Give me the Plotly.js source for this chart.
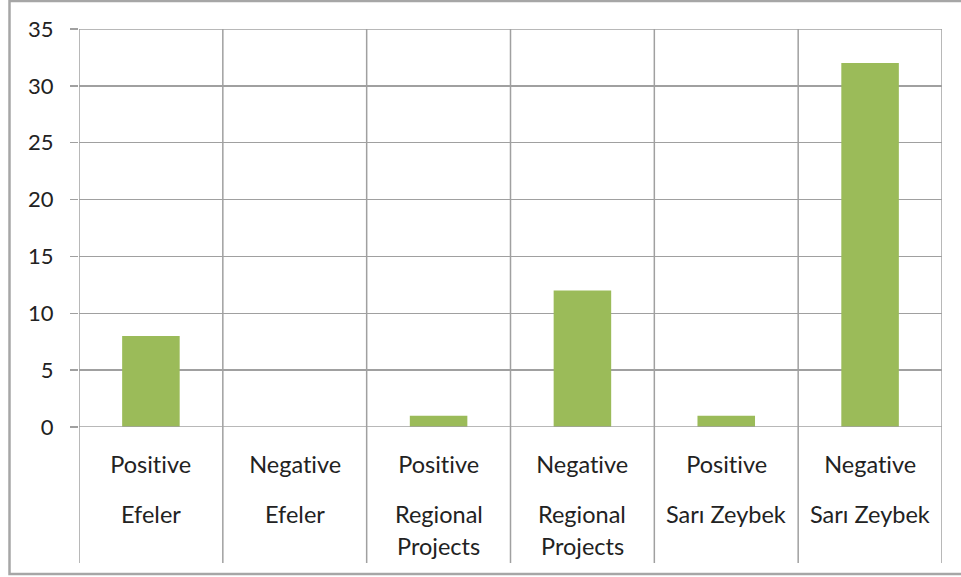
<!DOCTYPE html>
<html>
<head>
<meta charset="utf-8">
<script src="https://cdn.plot.ly/plotly-3.0.1.min.js"></script>
<style>
  html, body { margin: 0; padding: 0; background: #ffffff; }
  #chart { width: 961px; height: 577px; }
  #chart text { font-variant-ligatures: none !important; font-feature-settings: "liga" 0, "clig" 0 !important; }
</style>
</head>
<body>
<div id="chart"></div>
<script>
// ---- data ----
const sentiments = ["Positive", "Negative", "Positive", "Negative", "Positive", "Negative"];
const groups = ["Efeler", "Efeler", "Regional<br>Projects", "Regional<br>Projects", "Sarı Zeybek", "Sarı Zeybek"];
const counts = [8, 0, 1, 12, 1, 32];
const yTicks = [0, 5, 10, 15, 20, 25, 30, 35];

// ---- geometry helpers ----
const W = 961, H = 577;
const M = { l: 79, r: 19, t: 29, b: 150 };
const plotH = H - M.t - M.b;
const plotW = W - M.l - M.r;
const pyPaper = (py) => (H - M.b - py) / plotH;   // pixel y -> paper y
const pxPaper = (px) => (px - M.l) / plotW;       // pixel x -> paper x

const xIdx = sentiments.map((_, i) => i);
const FONT = "Lato, 'Open Sans', sans-serif";
const FSIZE_CAT = 23.5;
const FSIZE_Y = 22;
const GRID = "#a0a0a0";

const trace = {
  type: "bar",
  x: xIdx,
  y: counts,
  marker: { color: "#9BBB59" },
  width: 0.4,
  hoverinfo: "none"
};

const shapes = [];
// vertical category dividers, extending through the label area
for (let i = 0; i <= sentiments.length; i++) {
  shapes.push({
    type: "line", xref: "x", yref: "paper",
    x0: i - 0.5, x1: i - 0.5, y0: 1, y1: pyPaper(563),
    line: { color: GRID, width: 1.5 }
  });
}
// horizontal lines at the range edges (Plotly skips edge gridlines)
[yTicks[0], yTicks[yTicks.length - 1]].forEach((v) => {
  shapes.push({
    type: "line", xref: "paper", yref: "y",
    x0: 0, x1: 1, y0: v, y1: v,
    line: { color: GRID, width: 1.5 }
  });
});
// outer chart border
shapes.push({
  type: "rect", xref: "paper", yref: "paper",
  x0: pxPaper(9.5), x1: pxPaper(975), y0: pyPaper(574), y1: pyPaper(1),
  line: { color: "#a6a6a6", width: 2.5 }, layer: "below"
});

const annotations = [];
sentiments.forEach((s, i) => {
  annotations.push({
    xref: "x", yref: "paper", x: i, y: 0, yanchor: "middle",
    yshift: -(464 - (H - M.b)), text: s, showarrow: false,
    font: { family: FONT, size: FSIZE_CAT, color: "#222222" }
  });
  const lines = groups[i].split("<br>");
  lines.forEach((ln, k) => {
    annotations.push({
      xref: "x", yref: "paper", x: i, y: 0, yanchor: "middle",
      yshift: -(514 + 32 * k - (H - M.b)), text: ln, showarrow: false,
      font: { family: FONT, size: FSIZE_CAT, color: "#222222" }
    });
  });
});

const layout = {
  width: W, height: H,
  margin: M,
  paper_bgcolor: "#ffffff",
  plot_bgcolor: "#ffffff",
  showlegend: false,
  xaxis: {
    range: [-0.5, sentiments.length - 0.5],
    showgrid: false, zeroline: false, showticklabels: false,
    ticks: "", showline: false, fixedrange: true
  },
  yaxis: {
    range: [0, 35],
    tickvals: yTicks,
    ticktext: yTicks.map(String),
    showgrid: true, gridcolor: GRID, gridwidth: 1.5,
    zeroline: false, showline: false,
    ticks: "outside", ticklen: 8, tickcolor: GRID, tickwidth: 1.5,
    ticklabelstandoff: 12,
    tickfont: { family: FONT, size: FSIZE_Y, color: "#222222" },
    fixedrange: true
  },
  shapes: shapes,
  annotations: annotations
};

Plotly.newPlot("chart", [trace], layout, { staticPlot: true, displayModeBar: false });
</script>
</body>
</html>
